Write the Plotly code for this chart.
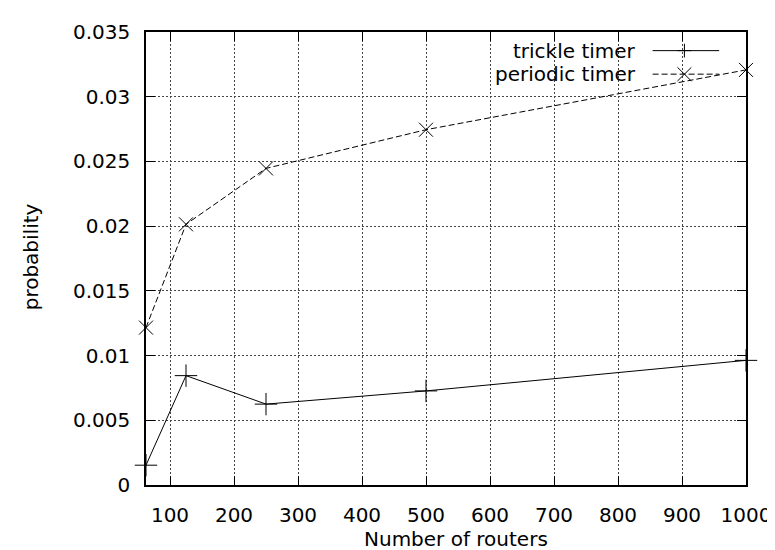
import plotly.graph_objects as go

routers = [62.5, 125, 250, 500, 1000]
trickle = [0.00153, 0.00845, 0.00625, 0.00727, 0.00963]
periodic = [0.01216, 0.02014, 0.02446, 0.02745, 0.03207]
series_names = ["trickle timer", "periodic timer"]
x_ticks = [100, 200, 300, 400, 500, 600, 700, 800, 900, 1000]
y_ticks = [0, 0.005, 0.01, 0.015, 0.02, 0.025, 0.03, 0.035]
y_tick_labels = ["0", "0.005", "0.01", "0.015", "0.02", "0.025", "0.03", "0.035"]

W, H = 775, 550
L, R, T, B = 138, 33, 15, 73
FONT = "DejaVu Sans"
FS = 20

fig = go.Figure()
fig.add_trace(go.Scatter(
    x=routers, y=trickle, mode="lines+markers", name=series_names[0],
    line=dict(color="black", width=1),
    marker=dict(symbol="cross-thin-open", size=16, line=dict(color="black", width=1)),
    cliponaxis=False, showlegend=False))
fig.add_trace(go.Scatter(
    x=routers, y=periodic, mode="lines+markers", name=series_names[1],
    line=dict(color="black", width=1, dash="6px,3px"),
    marker=dict(symbol="x-thin-open", size=14, line=dict(color="black", width=1)),
    cliponaxis=False, showlegend=False))

axis_common = dict(
    showline=True, linecolor="black", linewidth=1.5, mirror="ticks",
    ticks="inside", ticklen=9, tickwidth=1, tickcolor="black",
    showgrid=True, gridcolor="#444", gridwidth=1, griddash="2px,2px",
    zeroline=False, tickfont=dict(family=FONT, size=FS, color="black"),
)
fig.update_xaxes(range=[62.5, 1000], tickvals=x_ticks, ticklabelstandoff=11, **axis_common)
fig.update_yaxes(range=[0, 0.035], tickvals=y_ticks, ticktext=y_tick_labels,
                 ticklabelstandoff=10, **axis_common)

# x and y titles
fig.add_annotation(text="Number of routers", xref="paper", yref="paper",
                   x=(450 - L) / (W - L - R), y=-(532 - (H - B)) / (H - T - B),
                   showarrow=False, font=dict(family=FONT, size=FS, color="black"),
                   xanchor="center", yanchor="middle")
fig.add_annotation(text="probability", xref="paper", yref="paper",
                   x=-(L - 22) / (W - L - R), y=1 - (244 - T) / (H - T - B),
                   showarrow=False, textangle=-90,
                   font=dict(family=FONT, size=FS, color="black"),
                   xanchor="center", yanchor="middle")

# gnuplot-style legend (text on left, sample on right)
def px2paper(px, py):
    return (px - L) / (W - L - R), 1 - (py - T) / (H - T - B)

legend_rows = [(34, series_names[0], "solid", "plus"), (58, series_names[1], "dash", "x")]
for ly, name, dash, sym in legend_rows:
    tx, ty = px2paper(633, ly)
    fig.add_annotation(text=name, xref="paper", yref="paper", x=tx, y=ty,
                       showarrow=False, xanchor="right", yanchor="middle",
                       font=dict(family=FONT, size=FS, color="black"))
    x0, y0 = px2paper(648, ly)
    x1, _ = px2paper(715, ly)
    fig.add_shape(type="line", xref="paper", yref="paper", x0=x0, x1=x1, y0=y0, y1=y0,
                  line=dict(color="black", width=1, dash="6px,3px" if dash == "dash" else "solid"))
    cx, cy = 680, ly
    s = 7
    if sym == "plus":
        segs = [((cx - s, cy), (cx + s, cy)), ((cx, cy - s), (cx, cy + s))]
    else:
        segs = [((cx - s, cy - s), (cx + s, cy + s)), ((cx - s, cy + s), (cx + s, cy - s))]
    for (ax_, ay_), (bx_, by_) in segs:
        p0 = px2paper(ax_, ay_)
        p1 = px2paper(bx_, by_)
        fig.add_shape(type="line", xref="paper", yref="paper",
                      x0=p0[0], y0=p0[1], x1=p1[0], y1=p1[1],
                      line=dict(color="black", width=1))

fig.update_layout(
    width=W, height=H, margin=dict(l=L, r=R, t=T, b=B, pad=0),
    paper_bgcolor="white", plot_bgcolor="white",
    font=dict(family=FONT, size=FS, color="black"),
)
fig.write_html("out.html")
